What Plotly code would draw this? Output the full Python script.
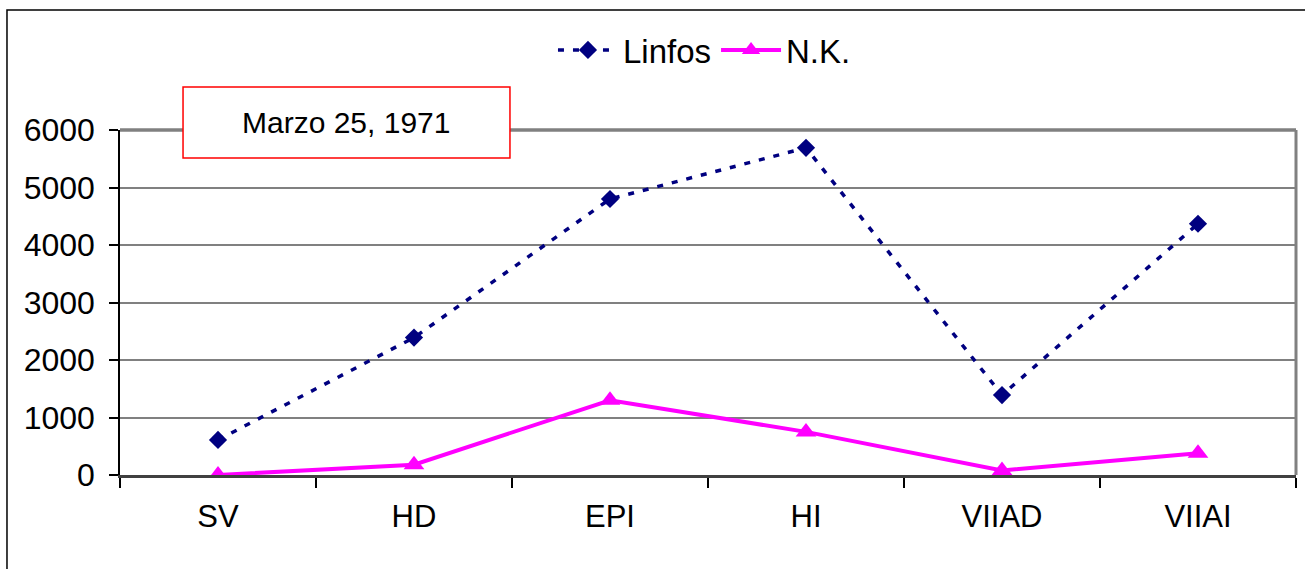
import plotly.graph_objects as go

# Sampling sites and cell counts
categories = ["SV", "HD", "EPI", "HI", "VIIAD", "VIIAI"]
linfos = [610, 2390, 4800, 5690, 1390, 4370]
nk = [0, 180, 1300, 750, 80, 380]
y_ticks = [0, 1000, 2000, 3000, 4000, 5000, 6000]
title_text = "Marzo 25, 1971"

NAVY = "#000080"
MAGENTA = "#FF00FF"
GRID = "#808080"
NARROW = "Liberation Sans Narrow, Arial Narrow, Liberation Sans, Arial, sans-serif"
REGULAR = "Liberation Sans, Arial, sans-serif"

fig = go.Figure()

fig.add_trace(go.Scatter(
    x=categories, y=linfos, name="Linfos", mode="lines+markers",
    line=dict(color=NAVY, width=3.5, dash="6px,9px"),
    marker=dict(symbol="diamond", size=14, color=NAVY),
))
fig.add_trace(go.Scatter(
    x=categories, y=nk, name="N.K.", mode="lines+markers",
    line=dict(color=MAGENTA, width=4),
    marker=dict(symbol="triangle-up", size=18, color=MAGENTA),
))

fig.update_layout(
    width=1305, height=569,
    margin=dict(l=120, r=9, t=130, b=94),
    paper_bgcolor="white", plot_bgcolor="white",
    showlegend=True,
    legend=dict(
        orientation="h", x=0.497, xanchor="center", y=1.232, yanchor="middle",
        font=dict(family=NARROW, size=33, color="black"),
        itemwidth=60, bgcolor="rgba(0,0,0,0)",
        tracegroupgap=0,
    ),
    xaxis=dict(
        type="category", range=[-0.5, 5.5],
        tickson="boundaries", ticks="outside", ticklen=10, tickwidth=1.5,
        tickcolor="black",
        showline=True, linecolor="#404040", linewidth=2.5,
        showgrid=False, zeroline=False,
        tickfont=dict(family=NARROW, size=31, color="black"),
        ticklabelstandoff=12,
    ),
    yaxis=dict(
        range=[0, 6000], tickvals=y_ticks,
        ticks="outside", ticklen=9, tickwidth=1.5, tickcolor="black",
        showline=True, linecolor="black", linewidth=1.5,
        showgrid=True, gridcolor=GRID, gridwidth=1.5,
        zeroline=False,
        tickfont=dict(family=NARROW, size=32, color="black"),
        ticklabelstandoff=8,
    ),
    shapes=[
        # outer chart frame
        dict(type="rect", xref="paper", yref="paper",
             x0=-0.0961, x1=1.2, y0=-0.8, y1=1.3478,
             line=dict(color="black", width=1.5), layer="below"),
        # plot area border (top and right)
        dict(type="line", xref="paper", yref="paper",
             x0=0, x1=1, y0=1, y1=1,
             line=dict(color=GRID, width=3.5), layer="above"),
        dict(type="line", xref="paper", yref="paper",
             x0=1, x1=1, y0=0, y1=1,
             line=dict(color=GRID, width=3), layer="above"),
        # date box
        dict(type="rect", xref="paper", yref="paper",
             x0=0.0536, x1=0.3316, y0=0.9188, y1=1.1246,
             fillcolor="white", line=dict(color="red", width=1.5),
             layer="above"),
    ],
    annotations=[
        dict(text=title_text, xref="paper", yref="paper",
             x=0.1926, y=1.0217, xanchor="center", yanchor="middle",
             showarrow=False,
             font=dict(family=REGULAR, size=30, color="black")),
    ],
)

fig.write_html("out.html")
